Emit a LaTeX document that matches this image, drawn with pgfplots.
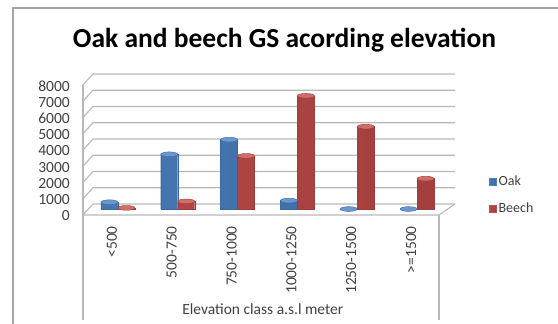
\documentclass[border=0pt]{standalone}
\usepackage{fontspec}
\setmainfont{Carlito}
\usepackage{pgfplots}
\pgfplotsset{compat=1.18}

\definecolor{oakM}{HTML}{4F81BD}
\definecolor{oakL}{HTML}{8DB3E2}
\definecolor{oakD}{HTML}{2E5A8E}
\definecolor{beechM}{HTML}{C0504D}
\definecolor{beechL}{HTML}{E0908D}
\definecolor{beechD}{HTML}{8B302E}
\definecolor{gridc}{HTML}{B8B8B8}
\definecolor{framec}{HTML}{A6A6A6}
\definecolor{textc}{HTML}{404040}

\begin{document}
\begin{tikzpicture}[x=1pt,y=1pt]
\path[use as bounding box] (0,0) rectangle (558,324);

% chart frame
\draw[framec, line width=1.2pt] (13,0) -- (13,316) -- (558,316);

% title
\node[anchor=base, font=\fontsize{27.5}{32}\selectfont\bfseries] at (284.5,276)
  {Oak and beech GS acording elevation};

% 3-D walls: back-wall gridlines with their side-wall diagonals
\foreach \i in {0,...,8} {
  \draw[gridc, line width=1.1pt] (83,{109+16.25*\i}) -- (93,{120+16.25*\i}) -- (455,{120+16.25*\i});
}
\draw[gridc, line width=1.1pt] (83,4) -- (83,239);
\draw[gridc, line width=1.1pt] (83,109) -- (439,109) -- (455,120);
\draw[gridc, line width=1.1pt] (439,109) -- (439,4);

\begin{axis}[
  at={(88pt,114.5pt)}, anchor=south west,
  scale only axis, width=359pt, height=130pt,
  xmin=-0.5, xmax=5.5, ymin=0, ymax=8000,
  clip=false,
  axis line style={draw=none},
  major tick length=0pt,
  ytick={0,1000,...,8000},
  scaled y ticks=false,
  /pgf/number format/assume math mode=true,
  /pgf/number format/1000 sep={},
  yticklabel style={xshift=-18pt, yshift=-6.5pt, anchor=east, inner sep=0pt,
    font=\fontsize{15.5}{17}\selectfont, text=textc},
  xtick={0,...,5},
  xticklabels={{<500},{500-750},{750-1000},{1000-1250},{1250-1500},{>=1500}},
  xticklabel style={xshift=-6pt, yshift=-16.5pt, rotate=90, anchor=east,
    inner sep=0pt, font=\fontsize{15.5}{17}\selectfont, text=textc},
  xlabel={Elevation class a.s.l meter},
  xlabel style={font=\fontsize{15.5}{17}\selectfont, text=textc,
    at={(axis description cs:0.487,-0.765)}, anchor=center},
  legend style={at={(axis description cs:1.117,0.11)}, anchor=west,
    draw=none, fill=none, font=\fontsize{14}{16}\selectfont, text=textc,
    row sep=12pt, inner sep=0pt,
    /tikz/every even column/.append style={column sep=3pt}},
  legend cell align=left,
]
% cylinders of the Oak series
\addplot[ybar, bar width=17pt, bar shift=-8.5pt, draw=oakD!60!oakM,
  left color=oakD!25!oakM, middle color=oakL!65!oakM, right color=oakD!55!oakM,
  legend image code/.code={\fill[oakM] (0pt,-3.5pt) rectangle (7pt,3.5pt);}]
  coordinates {(0,450) (1,3400) (2,4300) (3,550) (4,30) (5,30)};
\addlegendentry{Oak}
% cylinders of the Beech series
\addplot[ybar, bar width=17pt, bar shift=8.5pt, draw=beechD!60!beechM,
  left color=beechD!25!beechM, middle color=beechL!65!beechM, right color=beechD!55!beechM,
  legend image code/.code={\fill[beechM] (0pt,-3.5pt) rectangle (7pt,3.5pt);}]
  coordinates {(0,100) (1,500) (2,3300) (3,7000) (4,5100) (5,1900)};
\addlegendentry{Beech}
% elliptical cylinder tops
\addplot[forget plot, only marks, mark=*, mark size=8.5pt,
  mark options={xshift=-8.5pt, yscale=0.28, fill=oakL!45!oakM, draw=oakD!60!oakM}]
  coordinates {(0,450) (1,3400) (2,4300) (3,550) (4,30) (5,30)};
\addplot[forget plot, only marks, mark=*, mark size=8.5pt,
  mark options={xshift=8.5pt, yscale=0.28, fill=beechL!45!beechM, draw=beechD!60!beechM}]
  coordinates {(0,100) (1,500) (2,3300) (3,7000) (4,5100) (5,1900)};
\end{axis}
\end{tikzpicture}
\end{document}
